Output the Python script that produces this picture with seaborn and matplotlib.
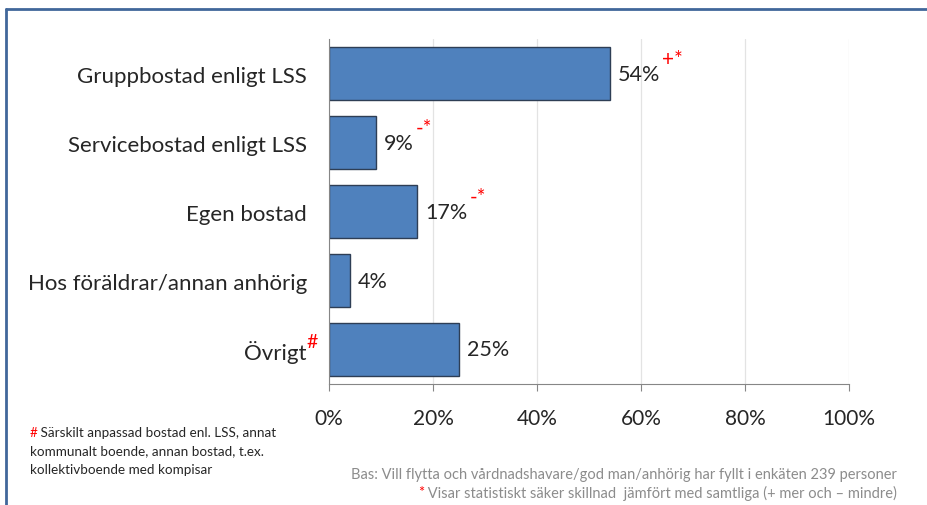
import matplotlib
matplotlib.use("Agg")
import matplotlib.pyplot as plt
import seaborn as sns
from matplotlib.lines import Line2D
from matplotlib.ticker import FuncFormatter

categories = [
    "Gruppbostad enligt LSS",
    "Servicebostad enligt LSS",
    "Egen bostad",
    "Hos föräldrar/annan anhörig",
    "Övrigt",
]
values = [54, 9, 17, 4, 25]
# significance markers shown after the value labels
sig_marks = ["+*", "-*", "-*", "", ""]
xticks = [0, 20, 40, 60, 80, 100]

footnote_lines = [
    "Särskilt anpassad bostad enl. LSS, annat",
    "kommunalt boende, annan bostad, t.ex.",
    "kollektivboende med kompisar",
]
base_text = "Bas: Vill flytta och vårdnadshavare/god man/anhörig har fyllt i enkäten 239 personer"
sig_text = " Visar statistiskt säker skillnad  jämfört med samtliga (+ mer och – mindre)"

BAR = "#4F81BD"
EDGE = "#2E3E55"
GRID = "#E3E3E3"
AXIS = "#868686"
FRAME = "#41679A"
GREY = "#8C8C8C"
RED = "#FF0000"


def _set_style():
    sns.set_style("white")
    plt.rcParams["font.family"] = ["Lato", "DejaVu Sans"]


def draw_plot():
    fig = plt.figure(figsize=(9.28, 5.06), dpi=100)
    ax = fig.add_axes([329 / 928, 1 - 385 / 506, 520 / 928, 345 / 506])
    sns.barplot(x=values, y=categories, orient="h", color=BAR,
                edgecolor=EDGE, linewidth=1.0, width=0.77, saturation=1, ax=ax)
    ax.set_xlim(0, 100)
    ax.set_xticks(xticks)
    ax.xaxis.set_major_formatter(FuncFormatter(lambda x, _: f"{x:.0f}%"))
    ax.grid(axis="x", color=GRID, linewidth=0.9)
    ax.set_axisbelow(True)
    for side in ["top", "right"]:
        ax.spines[side].set_visible(False)
    for side in ["left", "bottom"]:
        ax.spines[side].set_color(AXIS)
        ax.spines[side].set_linewidth(0.8)
    ax.tick_params(axis="x", length=5, width=0.8, color=AXIS, pad=12,
                   labelsize=15, direction="out", bottom=True)
    ax.tick_params(axis="y", length=0, pad=16, labelsize=16)
    ax.set_xlabel("")
    ax.set_ylabel("")
    return fig, ax


def add_labels(fig, ax):
    for container in ax.containers:
        texts = ax.bar_label(container, labels=[f"{v}%" for v in values],
                             padding=6, fontsize=15.5)
        for txt, mark in zip(texts, sig_marks):
            if mark:
                ax.annotate(mark, xy=(1, 0.72), xycoords=txt, color=RED,
                            fontsize=15, xytext=(1, 0), textcoords="offset points",
                            ha="left", va="bottom")
    fig.canvas.draw()
    ov = ax.get_yticklabels()[-1]
    ax.annotate("#", xy=(1, 0.55), xycoords=ov, color=RED, fontsize=14,
                xytext=(0, 0), textcoords="offset points", ha="left", va="bottom")


def add_notes(fig):
    y0 = 1 - 433 / 506
    fig.text(30 / 928, y0, "#", color=RED, fontsize=9.7, va="center")
    fig.text(37 / 928, y0, " " + footnote_lines[0], fontsize=9.7, va="center")
    for i, line in enumerate(footnote_lines[1:], start=1):
        fig.text(30 / 928, 1 - (433 + 18.5 * i) / 506, line, fontsize=9.7, va="center")
    fig.text(897 / 928, 1 - 475 / 506, base_text, color=GREY, fontsize=10.5,
             ha="right", va="center")
    t = fig.text(897 / 928, 1 - 493 / 506, sig_text, color=GREY, fontsize=10.5,
                 ha="right", va="center")
    fig.canvas.draw()
    bb = t.get_window_extent()
    fig.text(bb.x0 / 928, 1 - 493 / 506, "*", color=RED, fontsize=10.5,
             ha="right", va="center")


def add_frame(fig):
    # blue slide frame around the chart (top and left edges visible)
    fig.add_artist(Line2D([6 / 928, 1.0], [1 - 10 / 506] * 2, color=FRAME,
                          linewidth=2, transform=fig.transFigure))
    fig.add_artist(Line2D([6 / 928] * 2, [0.0, 1 - 10 / 506], color=FRAME,
                          linewidth=2, transform=fig.transFigure))


def main():
    _set_style()
    fig, ax = draw_plot()
    add_labels(fig, ax)
    add_notes(fig)
    add_frame(fig)
    fig.savefig("out.png", dpi=100, facecolor="white")


if __name__ == "__main__":
    main()
